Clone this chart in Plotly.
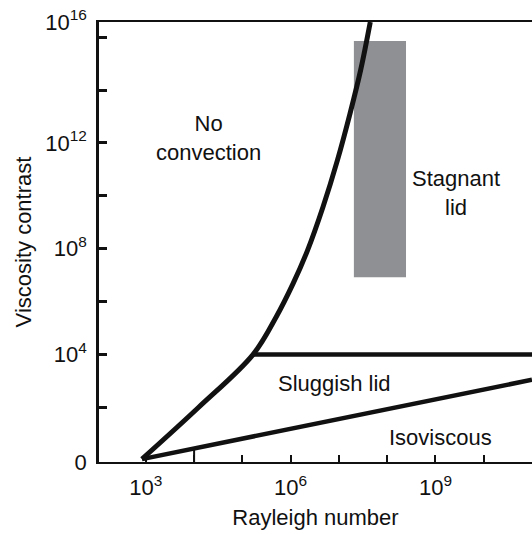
import numpy as np
import plotly.graph_objects as go

# Regime diagram: log10 of Rayleigh number vs log10 of viscosity contrast
FONT = "Liberation Sans, Arial, Helvetica, sans-serif"
INK = "#111111"

# Onset of convection (boundary of the "No convection" field)
onset_ra = [2.92, 4.09, 5.22, 5.70, 6.05, 6.35, 6.67, 6.97, 7.23, 7.45, 7.65]
onset_visc = [0.05, 2.00, 4.00, 5.42, 6.68, 7.94, 9.58, 11.35, 13.11, 14.75, 16.57]

# Sluggish lid / stagnant lid transition
stagnant_ra = [5.22, 11.0]
stagnant_visc = [4.00, 4.00]

# Isoviscous / sluggish lid transition
iso_ra = [2.92, 11.0]
iso_visc = [0.05, 3.05]

# Range covered by the shaded block (Ra and viscosity contrast, log10)
block_ra = [7.31, 8.39]
block_visc = [6.92, 15.85]

# Axis ranges and ticks
x_range = [2.03, 11.0]
y_range = [-0.06, 16.57]
x_tick_vals = [3, 6, 9]
x_tick_text = ["10<sup>3</sup>", "10<sup>6</sup>", "10<sup>9</sup>"]
x_minor_vals = [4, 5, 7, 8, 10]
y_tick_vals = [y_range[0], 4, 8, 12, y_range[1]]
y_tick_text = ["0", "10<sup>4</sup>", "10<sup>8</sup>", "10<sup>12</sup>", "10<sup>16</sup>"]
y_minor_vals = [2, 6, 10, 14, 16]

# Region labels
labels = ["No<br>convection", "Stagnant<br>lid", "Sluggish lid", "Isoviscous"]
label_ra = [4.30, 9.43, 6.91, 9.10]
label_visc = [12.18, 10.10, 2.90, 0.88]

fig = go.Figure()

bx = [block_ra[0], block_ra[1], block_ra[1], block_ra[0], block_ra[0]]
by = [block_visc[0], block_visc[0], block_visc[1], block_visc[1], block_visc[0]]
fig.add_trace(go.Scatter(x=bx, y=by, mode="lines", fill="toself",
                         fillcolor="rgb(143,144,148)", line=dict(width=0),
                         hoverinfo="skip"))

fig.add_trace(go.Scatter(x=iso_ra, y=iso_visc, mode="lines",
                         line=dict(color=INK, width=4.5)))
fig.add_trace(go.Scatter(x=stagnant_ra, y=stagnant_visc, mode="lines",
                         line=dict(color=INK, width=4.5)))
fig.add_trace(go.Scatter(x=onset_ra, y=onset_visc, mode="lines",
                         line=dict(color=INK, width=5, shape="spline", smoothing=1.0)))

# Long tick at Ra = 10^4 reaching up to the isoviscous boundary
tick_top = float(np.interp(x_minor_vals[0], iso_ra, iso_visc))
fig.add_trace(go.Scatter(x=[x_minor_vals[0], x_minor_vals[0]], y=[y_range[0], tick_top],
                         mode="lines", line=dict(color=INK, width=2)))

for t, xa, ya in zip(labels, label_ra, label_visc):
    fig.add_annotation(x=xa, y=ya, text=t, showarrow=False,
                       font=dict(family=FONT, size=22, color=INK))

tick_common = dict(ticks="inside", ticklen=8, tickwidth=2.5, tickcolor=INK)

fig.update_xaxes(range=x_range, showline=True, linecolor=INK, linewidth=2, mirror=True,
                 tickmode="array", tickvals=x_tick_vals, ticktext=x_tick_text,
                 ticks="inside", ticklen=7, tickwidth=2, tickcolor=INK,
                 minor=dict(tickmode="array", tickvals=x_minor_vals, ticks="inside",
                            ticklen=7, tickwidth=2, tickcolor=INK),
                 showgrid=False, zeroline=False, ticklabelstandoff=5,
                 tickfont=dict(family=FONT, size=22, color=INK),
                 title=dict(text="Rayleigh number", standoff=10,
                            font=dict(family=FONT, size=22, color=INK)))

fig.update_yaxes(range=y_range, showline=True, linecolor=INK, linewidth=2.5, mirror=False,
                 tickmode="array", tickvals=y_tick_vals, ticktext=y_tick_text,
                 minor=dict(tickmode="array", tickvals=y_minor_vals, **tick_common),
                 showgrid=False, zeroline=False, ticklabelstandoff=5,
                 tickfont=dict(family=FONT, size=22, color=INK),
                 title=dict(text="Viscosity contrast", standoff=8,
                            font=dict(family=FONT, size=22, color=INK)),
                 **tick_common)

fig.update_layout(width=532, height=534, margin=dict(l=99, r=0, t=22, b=72),
                  paper_bgcolor="white", plot_bgcolor="white", showlegend=False)

fig.write_html("out.html")
